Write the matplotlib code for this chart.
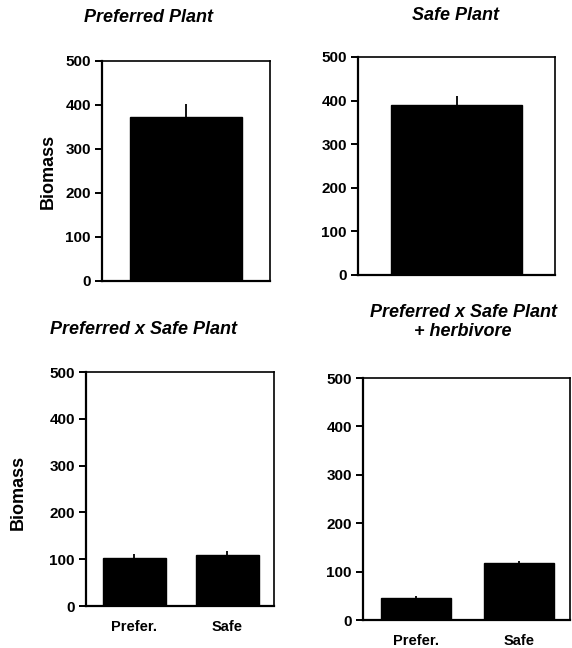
#!/usr/bin/env python3
"""Biomass of preferred / safe plants, alone, mixed, and mixed with herbivore."""

import matplotlib
matplotlib.use("Agg")
import matplotlib.pyplot as plt

plt.rcParams["font.family"] = ["Liberation Sans", "DejaVu Sans"]
plt.rcParams["font.weight"] = "bold"

# single-plant panels
PREF_ALONE = [372]
PREF_ALONE_ERR = [30]
SAFE_ALONE = [390]
SAFE_ALONE_ERR = [21]

# mixed panels
MIX_LABELS = ["Prefer.", "Safe"]
MIX = [102, 108]
MIX_ERR = [10, 10]
MIX_HERB = [46, 117]
MIX_HERB_ERR = [3, 4]

Y_TICKS = [0, 100, 200, 300, 400, 500]

W, H = 572, 648


def px_axes(fig, left, top, right, bottom):
    return fig.add_axes([left / W, 1 - bottom / H, (right - left) / W, (bottom - top) / H])


def panel(ax, vals, errs, labels=None):
    xs = list(range(len(vals)))
    single = len(vals) == 1
    ax.bar(xs, vals, width=1.0 if single else 0.68, color="black", edgecolor="black")
    ax.errorbar(xs, vals, yerr=[[0] * len(errs), errs], fmt="none",
                ecolor="black", elinewidth=1.3, capsize=0)
    ax.set_ylim(0, 500)
    if single:
        ax.set_xlim(-0.75, 0.75)
    else:
        ax.set_xlim(-0.52, 1.5)
    ax.set_yticks(Y_TICKS)
    ax.tick_params(axis="y", direction="out", length=5, width=1.4, labelsize=11, pad=3)
    if labels:
        ax.set_xticks(xs)
        ax.set_xticklabels(labels, fontsize=10.5, fontweight="bold")
        ax.tick_params(axis="x", length=0, pad=10)
    else:
        ax.set_xticks([])
    for lbl in ax.get_yticklabels():
        lbl.set_fontweight("bold")
    for side in ["left", "bottom"]:
        ax.spines[side].set_linewidth(1.6)
    for side in ["top", "right"]:
        ax.spines[side].set_linewidth(1.2)


fig = plt.figure(figsize=(W / 100, H / 100), dpi=100)

ax1 = px_axes(fig, 102, 61, 270, 281)
panel(ax1, PREF_ALONE, PREF_ALONE_ERR)
ax2 = px_axes(fig, 358, 57, 555, 275)
panel(ax2, SAFE_ALONE, SAFE_ALONE_ERR)
ax3 = px_axes(fig, 86, 372, 274, 606)
panel(ax3, MIX, MIX_ERR, MIX_LABELS)
ax4 = px_axes(fig, 363, 378, 570, 620)
panel(ax4, MIX_HERB, MIX_HERB_ERR, MIX_LABELS)

title_kw = dict(fontsize=13, fontweight="bold", style="italic", ha="center", va="center")
fig.text(148 / W, 1 - 17 / H, "Preferred Plant", **title_kw)
fig.text(455 / W, 1 - 16 / H, "Safe Plant", **title_kw)
fig.text(143 / W, 1 - 329 / H, "Preferred x Safe Plant", **title_kw)
fig.text(463 / W, 1 - 322 / H, "Preferred x Safe Plant\n+ herbivore", linespacing=1.15, **title_kw)

ylab_kw = dict(fontsize=13, fontweight="bold", rotation=90, ha="center", va="center")
fig.text(48 / W, 1 - 171 / H, "Biomass", **ylab_kw)
fig.text(18 / W, 1 - 492 / H, "Biomass", **ylab_kw)

fig.savefig("out.png", dpi=100)
